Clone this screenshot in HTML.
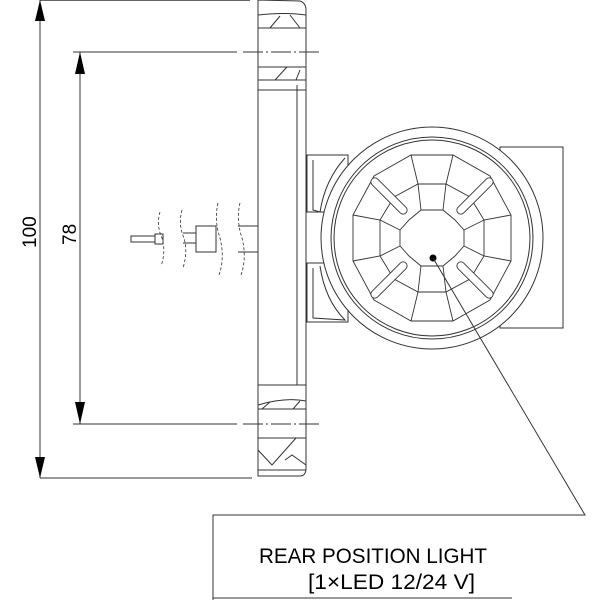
<!DOCTYPE html>
<html><head><style>html,body{margin:0;padding:0;background:#fff}svg{display:block}</style></head><body>
<svg width="600" height="600" viewBox="0 0 600 600" xmlns="http://www.w3.org/2000/svg" fill="none" stroke="#333" stroke-width="1">
<!-- dimension lines -->
<line x1="40" y1="0" x2="250" y2="0" stroke-width="1.5"/>
<line x1="40" y1="478" x2="252" y2="478"/>
<line x1="73" y1="52" x2="237" y2="52"/><line x1="243" y1="52" x2="322" y2="52" stroke-dasharray="20,3,2,3"/>
<line x1="73" y1="424" x2="237" y2="424"/><line x1="243" y1="424" x2="320" y2="424" stroke-dasharray="20,3,2,3"/>
<line x1="40" y1="0" x2="40" y2="478"/>
<line x1="80" y1="52" x2="80" y2="424"/>
<polygon points="40,0 35,21 45,21" fill="#000" stroke="none"/>
<polygon points="40,478 35,457 45,457" fill="#000" stroke="none"/>
<polygon points="80,52 75,74 85,74" fill="#000" stroke="none"/>
<polygon points="80,424 75,402 85,402" fill="#000" stroke="none"/>
<text x="0" y="0" transform="translate(36,248) rotate(-90)" font-family="Liberation Sans, sans-serif" font-size="19" fill="#000" stroke="none">100</text>
<text x="0" y="0" transform="translate(76,245) rotate(-90)" font-family="Liberation Sans, sans-serif" font-size="19" fill="#000" stroke="none">78</text>
<!-- wire -->
<rect x="131" y="236" width="24" height="6"/>
<rect x="155" y="234" width="8" height="10"/>
<line x1="183" y1="233" x2="196" y2="233"/><line x1="183" y1="243" x2="196" y2="243"/>
<rect x="196" y="226" width="20" height="26"/>
<line x1="238" y1="226" x2="258" y2="226"/><line x1="238" y1="252" x2="258" y2="252"/>
<g stroke-dasharray="3,2" stroke-width="0.8">
<path d="M160,212 Q156,225 162,238 Q166,252 161,266"/>
<path d="M182,210 Q178,225 184,238 Q188,252 183,268"/>
<path d="M218,203 Q214,220 220,238 Q225,258 219,275"/>
<path d="M240,203 Q236,220 242,238 Q247,258 241,275"/>
</g>
<!-- flange -->
<path d="M258,0 V476 H300 Q306,476 306,468 V10 Q306,3 300,1 Z"/>
<line x1="297" y1="85" x2="297" y2="385"/>
<line x1="258" y1="28" x2="306" y2="28"/><line x1="258" y1="67" x2="306" y2="67"/>
<line x1="258" y1="80" x2="306" y2="80"/><line x1="258" y1="90" x2="306" y2="90"/>
<path d="M258,15 Q285,12 306,15"/><path d="M280,16 L270,28 M290,15 L300,28 M287,67 L275,80 M300,70 L296,80"/>
<line x1="258" y1="385" x2="306" y2="385"/><line x1="258" y1="409" x2="306" y2="409"/>
<line x1="258" y1="438" x2="306" y2="438"/><line x1="258" y1="470" x2="306" y2="470"/>
<path d="M258,405 Q285,397 306,401 M262,409 L270,402 M293,409 L300,401 M258,450 L272,465 L296,438 M285,460 L292,455 L306,465"/>
<!-- brackets -->
<rect x="500" y="147" width="63" height="181"/>
<rect x="307" y="155" width="41" height="57"/>
<rect x="307" y="263" width="41" height="59"/>
<path d="M313,160 V210 L320,212 Q325,180 345,158"/>
<path d="M313,268 V318 L345,320 Q325,300 320,266"/>
<!-- lamp -->
<circle cx="432" cy="238" r="111" fill="#fff"/>
<circle cx="432" cy="238" r="101"/>
<circle cx="432" cy="238" r="98"/>
<g stroke-width="0.9">
<polygon points="411,155 453,155 490,176 511,215 511,261 490,300 453,321 411,321 374,300 353,261 353,215 374,176"/>
<polygon points="418,184 446,184 470,197 484,220 484,256 470,279 446,292 418,292 394,279 380,256 380,220 394,197"/>
<polygon points="421,210 443,210 455,220 464,230 464,246 455,256 443,266 421,266 409,256 400,246 400,230 409,220"/>
<path d="M411,155 L418,184 L421,210 M453,155 L446,184 L443,210 M511,215 L484,220 L464,230 M511,261 L484,256 L464,246 M411,321 L418,292 L421,266 M453,321 L446,292 L443,266 M353,215 L380,220 L400,230 M353,261 L380,256 L400,246"/>
</g>
<g stroke-width="0.9">
<rect x="-4" y="-24" width="8" height="48" rx="4" transform="translate(389,196) rotate(-45)" fill="#fff"/>
<rect x="-4" y="-24" width="8" height="48" rx="4" transform="translate(475,196) rotate(45)" fill="#fff"/>
<rect x="-4" y="-24" width="8" height="48" rx="4" transform="translate(389,280) rotate(45)" fill="#fff"/>
<rect x="-4" y="-24" width="8" height="48" rx="4" transform="translate(475,280) rotate(-45)" fill="#fff"/>
</g>
<circle cx="433" cy="258" r="3.5" fill="#000" stroke="none"/>
<!-- leader -->
<polyline points="433,258 585,515 213,515 213,600"/>
<line x1="213" y1="598" x2="512" y2="598"/>
<text x="259" y="563" font-family="Liberation Sans, sans-serif" font-size="21" fill="#000" stroke="none" textLength="228" lengthAdjust="spacingAndGlyphs">REAR POSITION LIGHT</text>
<text x="308" y="589" font-family="Liberation Sans, sans-serif" font-size="21" fill="#000" stroke="none" textLength="167" lengthAdjust="spacingAndGlyphs">[1×LED 12/24 V]</text>
</svg>
</body></html>
